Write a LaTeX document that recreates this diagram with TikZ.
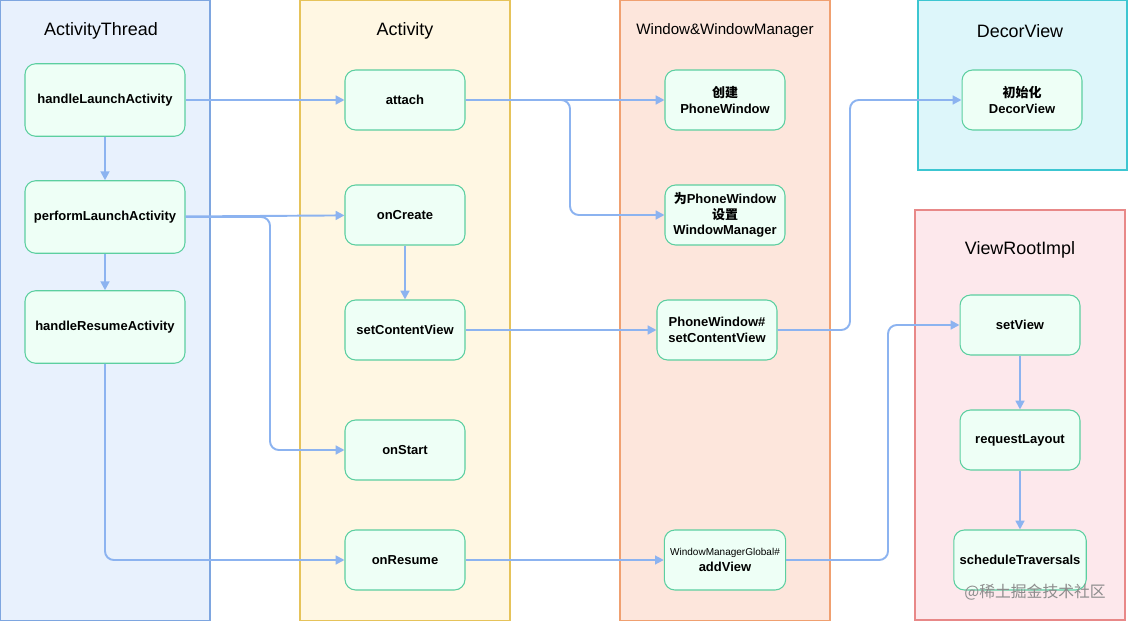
\documentclass[tikz,border=0pt]{standalone}
\usepackage{fontspec}
\setmainfont{Liberation Sans}
\newfontfamily\cjk{Noto Sans CJK SC}
\usetikzlibrary{arrows.meta, positioning, calc}
\definecolor{threadFill}{RGB}{232, 241, 253}
\definecolor{threadLine}{RGB}{126, 166, 224}
\definecolor{actFill}{RGB}{255, 247, 227}
\definecolor{actLine}{RGB}{230, 195, 90}
\definecolor{winFill}{RGB}{253, 230, 220}
\definecolor{winLine}{RGB}{240, 160, 112}
\definecolor{decorFill}{RGB}{221, 246, 250}
\definecolor{decorLine}{RGB}{60, 198, 209}
\definecolor{rootFill}{RGB}{253, 232, 236}
\definecolor{rootLine}{RGB}{232, 136, 136}
\definecolor{stageFill}{RGB}{238, 255, 246}
\definecolor{stageLine}{RGB}{92, 207, 160}
\definecolor{flowColor}{RGB}{140, 179, 240}
\tikzset{
    lane/.style={draw, line width=0.6pt},
    stage/.style={draw=stageLine, fill=stageFill, rounded corners=6pt, line width=0.6pt,
        minimum width=2.4cm, minimum height=1.2cm, align=center,
        font=\fontsize{7.4}{9}\selectfont\bfseries},
    wide/.style={stage, minimum width=3.2cm, minimum height=1.45cm},
    flow/.style={draw=flowColor, line width=1.1pt, rounded corners=5pt,
        -{Triangle[length=5pt, width=5pt]}},
    head/.style={font=\fontsize{10.2}{12}\selectfont}
}
\begin{document}
\begin{tikzpicture}[x=0.02cm, y=-0.02cm]
    \useasboundingbox (0,0) rectangle (1128,621);

    % Lanes
    \fill[threadFill] (0,0) rectangle (210,621);
    \draw[lane, threadLine] (0,0) rectangle (210,621);
    \fill[actFill] (300,0) rectangle (510,621);
    \draw[lane, actLine] (300,0) rectangle (510,621);
    \fill[winFill] (620,0) rectangle (830,621);
    \draw[lane, winLine] (620,0) rectangle (830,621);
    \fill[decorFill] (918,0) rectangle (1127,170);
    \draw[lane, decorLine] (918,0) rectangle (1127,170);
    \fill[rootFill] (915,210) rectangle (1125,620);
    \draw[lane, rootLine] (915,210) rectangle (1125,620);

    \node[head] (hThread) at (101,31) {ActivityThread};
    \node[head] (hAct) at (405,31) {Activity};
    \node[font=\fontsize{8.6}{10}\selectfont] (hWin) at (725,31) {Window\&WindowManager};
    \node[head] (hDecor) at (1020,31) {DecorView};
    \node[head] (hRoot) at (1020,250) {ViewRootImpl};

    % ActivityThread
    \node[wide] (handleLaunch) at (105,100) {handleLaunchActivity};
    \node[wide] (performLaunch) at (105,217) {performLaunchActivity};
    \node[wide] (handleResume) at (105,327) {handleResumeActivity};

    % Activity
    \node[stage] (attach) at (405,100) {attach};
    \node[stage] (onCreate) at (405,215) {onCreate};
    \node[stage] (setContent) at (405,330) {setContentView};
    \node[stage] (onStart) at (405,450) {onStart};
    \node[stage] (onResume) at (405,560) {onResume};

    % Window
    \node[stage] (newWindow) at (725,100) {{\cjk\bfseries 创建}\\PhoneWindow};
    \node[stage] (setManager) at (725,215) {{\cjk\bfseries 为}PhoneWindow\\{\cjk\bfseries 设置}\\WindowManager};
    \node[stage] (winContent) at (717,330) {PhoneWindow\#\\setContentView};
    \node[stage] (addView) at (725,560) {{\fontsize{5.7}{7}\selectfont\mdseries WindowManagerGlobal\#}\\addView};

    % DecorView / ViewRootImpl
    \node[stage] (initDecor) at (1022,100) {{\cjk\bfseries 初始化}\\DecorView};
    \node[stage] (setView) at (1020,325) {setView};
    \node[stage] (reqLayout) at (1020,440) {requestLayout};
    \node[stage] (schedule) at (1020,560) {scheduleTraversals};

    % Flows
    \draw[flow] (handleLaunch) -- (attach);
    \draw[flow] (handleLaunch) -- (performLaunch);
    \draw[flow] (performLaunch) -- (handleResume);
    \draw[flow] (performLaunch) -- (onCreate);
    \draw[flow] (performLaunch.east) -| (270,330) |- (onStart.west);
    \draw[flow] (handleResume.south) |- (onResume.west);
    \draw[flow] (attach) -- (newWindow);
    \draw[flow] (attach.east) -| (570,160) |- (setManager.west);
    \draw[flow] (onCreate) -- (setContent);
    \draw[flow] (setContent) -- (winContent);
    \draw[flow] (winContent.east) -| (850,200) |- (initDecor.west);
    \draw[flow] (onResume) -- (addView);
    \draw[flow] (addView.east) -| (888,450) |- (setView.west);
    \draw[flow] (setView) -- (reqLayout);
    \draw[flow] (reqLayout) -- (schedule);

    \node[text=black!45, font=\cjk\fontsize{9}{10}\selectfont, anchor=east] (mark) at (1112,592) {@稀土掘金技术社区};
\end{tikzpicture}
\end{document}
